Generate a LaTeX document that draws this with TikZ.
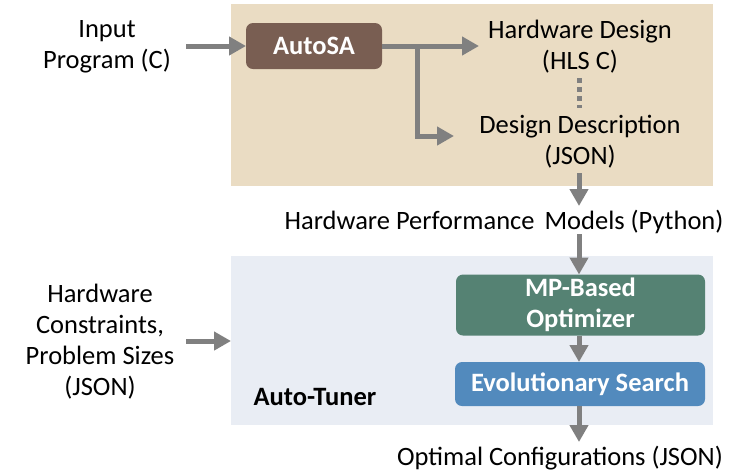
\documentclass[tikz,border=0pt]{standalone}
\usepackage{fontspec}
\setmainfont{Carlito}
\usetikzlibrary{arrows.meta}
\definecolor{tanbg}{RGB}{234,220,195}
\definecolor{bluebg}{RGB}{233,237,244}
\definecolor{autosacol}{RGB}{121,94,82}
\definecolor{mpcol}{RGB}{85,130,115}
\definecolor{evocol}{RGB}{82,138,189}
\definecolor{arrgray}{RGB}{128,128,128}
\begin{document}
\begin{tikzpicture}[x=1pt,y=-1pt,
  arr/.style={draw=arrgray, line width=5pt, -{Triangle[length=17pt,width=18pt]}},
  dotline/.style={draw=arrgray, line width=5pt, dash pattern=on 5pt off 4pt},
  lbl/.style={align=center, font=\fontsize{26.5}{31}\selectfont, inner sep=0pt},
  panel/.style={inner sep=0pt, outer sep=0pt},
  box/.style={rounded corners=7pt, text=white, font=\bfseries\fontsize{26.5}{31.5}\selectfont, align=center, inner sep=0pt, outer sep=0pt},
]
\useasboundingbox (0,0) rectangle (751,475);
% panels
\node[panel, fill=tanbg, minimum width=482pt, minimum height=182pt] (tanpanel) at (472,95) {};
\node[panel, fill=bluebg, minimum width=482pt, minimum height=169pt] (bluepanel) at (472,340.5) {};
% boxes
\node[box, fill=autosacol, minimum width=136pt, minimum height=46pt] (autosa) at (314,46) {AutoSA};
\node[box, fill=mpcol, minimum width=249pt, minimum height=61pt] (mp) at (580.5,305) {MP-Based\\Optimizer};
\node[box, fill=evocol, minimum width=250pt, minimum height=44pt] (evo) at (580,384) {Evolutionary Search};
% labels
\node[lbl] (input) at (107,47) {Input\\Program (C)};
\node[lbl] (hwdesign) at (580,47) {Hardware Design\\(HLS C)};
\node[lbl] (desdesc) at (580,142) {Design Description\\(JSON)};
\node[lbl] (hpm) at (504,222) {Hardware Performance\hspace{4pt} Models (Python)};
\node[lbl] (opt) at (560,458) {Optimal Configurations (JSON)};
\node[lbl] (hwcons) at (100,341.5) {Hardware\\Constraints,\\Problem Sizes\\(JSON)};
\node[lbl, font=\bfseries\fontsize{26.5}{31}\selectfont] (autotuner) at (315,397) {Auto-Tuner};
% coordinates
\coordinate (inA) at (186,46);
\coordinate (hdin) at (479,46);
\coordinate (br) at (417,46);
\coordinate (ddin) at (454,136);
\coordinate (dotA) at (579,78);
\coordinate (dotB) at (579,108);
\coordinate (ddout) at (579,173);
\coordinate (hpmin) at (579,206);
\coordinate (hpmout) at (579,234);
\coordinate (consA) at (186,341);
\coordinate (consB) at (231,341);
\coordinate (optin) at (579,442);
% connectors
\draw[arr] (inA) -- (autosa.west);
\draw[arr] (autosa.east) -- (hdin);
\draw[arr] (br) |- (ddin);
\draw[dotline] (dotA) -- (dotB);
\draw[arr] (ddout) -- (hpmin);
\draw[arr] (hpmout) -- (mp.north -| hpmout);
\draw[arr] (mp.south -| hpmout) -- (evo.north -| hpmout);
\draw[arr] (evo.south -| hpmout) -- (optin);
\draw[arr] (consA) -- (consB);
\end{tikzpicture}
\end{document}
